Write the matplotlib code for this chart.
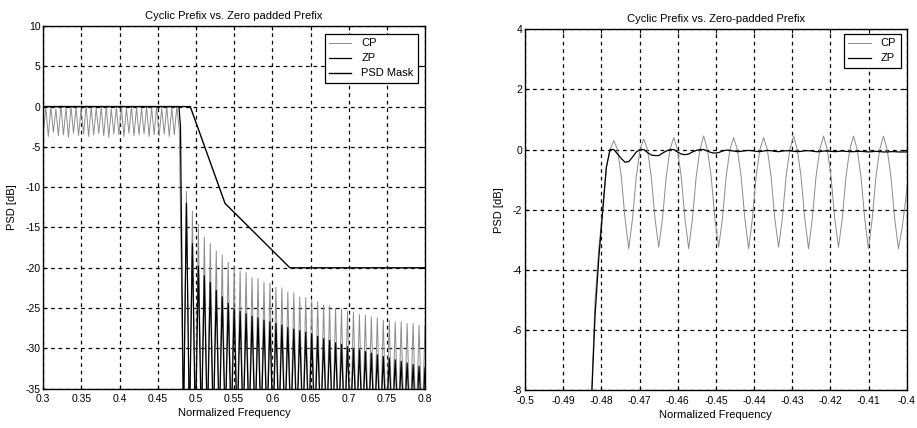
"""Cyclic Prefix vs. Zero padded Prefix — PSD 비교(좌: 전체 대역, 우: 대역 끝 확대)."""
import matplotlib

matplotlib.use("Agg")
import matplotlib.pyplot as plt  # noqa: E402
import numpy as np  # noqa: E402

plt.rcParams["font.family"] = ["Liberation Sans", "DejaVu Sans"]
plt.rcParams["axes.unicode_minus"] = False  # MATLAB식 하이픈 음수

# ---- 왼쪽: 0.3~0.8 ----
# CP 통과대역: 0.300부터 반주기 간격(골, 마루 교대)
PASS_F0 = 0.3
PASS_DF = 0.0033
cp_pass_db = [
    -3.4, -0.1, -3.7, 0.0, -3.2, -0.3, -3.6, 0.1, -3.5, -0.2,
    -3.8, 0.0, -3.3, -0.1, -3.6, -0.3, -3.4, 0.1, -3.7, 0.0,
    -3.5, -0.2, -3.3, -0.1, -3.6, 0.0, -3.8, -0.3, -3.4, -0.1,
    -3.5, 0.1, -3.7, -0.2, -3.3, 0.0, -3.6, -0.1, -3.5, -0.2,
    -3.4, 0.0, -3.7, -0.1, -3.5, 0.0, -3.6, -0.2, -3.4, 0.0,
    -3.7, -0.1, -3.5, 0.0, -3.0,
]

# 저지대역: 0.4836부터 반주기 간격(널, 사이드로브 교대)
STOP_F0 = 0.48359375
STOP_DF = 0.00390625
cp_stop_db = [
    -40, -10.5, -40, -13.0, -40, -14.6, -40, -16.2, -40, -17.0,
    -40, -17.9, -40, -18.4, -40, -19.3, -40, -19.8, -40, -20.4,
    -40, -20.6, -40, -21.2, -40, -21.3, -40, -21.8, -40, -21.9,
    -40, -22.4, -40, -22.5, -40, -23.0, -40, -23.1, -40, -23.6,
    -40, -23.7, -40, -24.1, -40, -24.2, -40, -24.6, -40, -24.7,
    -40, -25.0, -40, -25.1, -40, -25.4, -40, -25.5, -40, -25.8,
    -40, -25.9, -40, -26.1, -40, -26.2, -40, -26.5, -40, -26.5,
    -40, -26.7, -40, -26.7, -40, -26.9, -40, -26.9, -40, -27.1,
    -40, -27.1,
]

# ZP: 통과대역 평탄(0 dB) 후 급락, 저지대역은 CP와 같은 격자
zp_pass_freq = [0.3, 0.4777, 0.4797]
zp_pass_db = [0.0, 0.0, -2.5]
zp_stop_db = [
    -40, -12.0, -40, -17.0, -40, -19.8, -40, -21.0, -40, -21.8,
    -40, -22.8, -40, -23.6, -40, -24.4, -40, -25.1, -40, -25.4,
    -40, -25.7, -40, -26.0, -40, -26.2, -40, -26.5, -40, -26.7,
    -40, -26.9, -40, -27.1, -40, -27.4, -40, -27.6, -40, -27.8,
    -40, -28.0, -40, -28.2, -40, -28.5, -40, -28.8, -40, -29.0,
    -40, -29.3, -40, -29.5, -40, -29.8, -40, -30.0, -40, -30.2,
    -40, -30.4, -40, -30.6, -40, -30.8, -40, -31.0, -40, -31.2,
    -40, -31.4, -40, -31.6, -40, -31.8, -40, -32.0, -40, -32.2,
    -40, -32.4,
]

mask_freq = [0.3, 0.4925, 0.538, 0.623, 0.8]
mask_db = [0.0, 0.0, -12.0, -20.0, -20.0]

# ---- 오른쪽: -0.5~-0.4 확대, 1/8 주기 간격 샘플 ----
RIGHT_F0 = -0.4836
RIGHT_DF = 0.000981

cp_right_db = [
    -10.0, -8.3, -5.0, -3.3, -2.0, -0.6, 0.0,
    0.30, 0.0, -0.9, -2.3, -3.30, -2.3, -0.9, 0.0,
    0.35, 0.0, -0.9, -2.3, -3.25, -2.3, -0.9, 0.0,
    0.40, 0.0, -0.9, -2.3, -3.30, -2.3, -0.9, 0.0,
    0.45, 0.0, -0.9, -2.3, -3.25, -2.3, -0.9, 0.0,
    0.40, 0.0, -0.9, -2.3, -3.30, -2.3, -0.9, 0.0,
    0.40, 0.0, -0.9, -2.3, -3.25, -2.3, -0.9, 0.0,
    0.45, 0.0, -0.9, -2.3, -3.30, -2.3, -0.9, 0.0,
    0.45, 0.0, -0.9, -2.3, -3.25, -2.3, -0.9, 0.0,
    0.45, 0.0, -0.9, -2.3, -3.30, -2.3, -0.9, 0.0,
    0.45, 0.0, -0.9, -2.3, -3.30, -2.6, -1.6, -0.5,
]

zp_right_db = [
    -11.0, -8.5, -5.5, -3.6, -2.1, -0.6, 0.0, 0.0,
    -0.15, -0.30, -0.42, -0.40, -0.25, -0.08, 0.0, 0.0,
    -0.10, -0.18, -0.20, -0.20, -0.12, -0.05, 0.0, 0.0,
    -0.08, -0.15, -0.17, -0.15, -0.08, -0.03, 0.0, 0.0,
    -0.05, -0.10, -0.12, -0.10, -0.05, -0.02,
    -0.03, -0.05, -0.07, -0.06, -0.04, -0.03, -0.04, -0.06,
    -0.07, -0.05, -0.03, -0.04, -0.06, -0.07, -0.05, -0.04,
    -0.04, -0.06, -0.07, -0.06, -0.04, -0.04, -0.05, -0.07,
    -0.07, -0.05, -0.05, -0.06, -0.07, -0.06, -0.05, -0.06,
    -0.07, -0.07, -0.06, -0.06, -0.07, -0.08, -0.07, -0.06,
    -0.07, -0.08, -0.08, -0.07, -0.07, -0.08, -0.08, -0.08,
    -0.08,
]

left_x_ticks = [0.3, 0.35, 0.4, 0.45, 0.5, 0.55, 0.6, 0.65, 0.7, 0.75, 0.8]
left_y_ticks = [-35, -30, -25, -20, -15, -10, -5, 0, 5, 10]
right_x_ticks = [-0.5, -0.49, -0.48, -0.47, -0.46, -0.45, -0.44, -0.43, -0.42, -0.41, -0.4]
right_y_ticks = [-8, -6, -4, -2, 0, 2, 4]

CP_COLOR = "#8c8c8c"
FS_TICK = 7.5
FS = 8


def _matlab_axes(ax, xticks, yticks, xlim, ylim):
    ax.set_xlim(*xlim)
    ax.set_ylim(*ylim)
    ax.set_xticks(xticks)
    ax.set_xticklabels([f"{t:g}" for t in xticks])
    ax.set_yticks(yticks)
    ax.set_yticklabels([f"{t:g}" for t in yticks])
    ax.tick_params(direction="in", top=True, right=True, length=3, width=0.8,
                   labelsize=FS_TICK)
    ax.tick_params(axis="x", pad=4)
    ax.tick_params(axis="y", pad=2)
    ax.grid(True, color="black", linestyle=(0, (3, 3)), linewidth=0.9)
    for s in ax.spines.values():
        s.set_linewidth(1.0)
    ax.set_xlabel("Normalized Frequency", fontsize=FS, labelpad=3)
    ax.set_ylabel("PSD [dB]", fontsize=FS, labelpad=6)


fig = plt.figure(figsize=(9.17, 4.28), dpi=100)

# 왼쪽
ax1 = fig.add_axes((0.0472, 0.0918, 0.4163, 0.8475))
f_pass = PASS_F0 + PASS_DF * np.arange(len(cp_pass_db))
f_stop = STOP_F0 + STOP_DF * np.arange(len(cp_stop_db))
ax1.plot(np.concatenate([f_pass, f_stop]), cp_pass_db + cp_stop_db,
         color=CP_COLOR, linewidth=0.7, label="CP")
f_zstop = STOP_F0 + STOP_DF * np.arange(len(zp_stop_db))
ax1.plot(np.concatenate([zp_pass_freq, f_zstop]), zp_pass_db + zp_stop_db,
         color="black", linewidth=0.9, label="ZP")
ax1.plot(mask_freq, mask_db, color="black", linewidth=1.0, label="PSD Mask")
_matlab_axes(ax1, left_x_ticks, left_y_ticks, (0.3, 0.8), (-35, 10))
ax1.set_title("Cyclic Prefix vs. Zero padded Prefix", fontsize=FS, pad=5)
leg1 = ax1.legend(loc="upper right", bbox_to_anchor=(0.982, 0.978), borderaxespad=0,
                  fontsize=FS, fancybox=False, framealpha=1, edgecolor="black",
                  handlelength=2.0, handletextpad=0.9, labelspacing=0.45)
leg1.get_frame().set_linewidth(0.9)

# 오른쪽
ax2 = fig.add_axes((0.5725, 0.0888, 0.4163, 0.8427))
fr = RIGHT_F0 + RIGHT_DF * np.arange(len(cp_right_db))
fz = RIGHT_F0 + RIGHT_DF * np.arange(len(zp_right_db))
ax2.plot(fr, cp_right_db, color=CP_COLOR, linewidth=0.7, label="CP")
ax2.plot(fz, zp_right_db, color="black", linewidth=0.9, label="ZP")
_matlab_axes(ax2, right_x_ticks, right_y_ticks, (-0.5, -0.4), (-8, 4))
ax2.set_title("Cyclic Prefix vs. Zero-padded Prefix", fontsize=FS, pad=5)
leg2 = ax2.legend(loc="upper right", bbox_to_anchor=(0.984, 0.987), borderaxespad=0,
                  fontsize=FS, fancybox=False, framealpha=1, edgecolor="black",
                  handlelength=2.0, handletextpad=0.9, labelspacing=0.45)
leg2.get_frame().set_linewidth(0.9)

fig.savefig("out.png", dpi=100, facecolor="white")
plt.close(fig)
